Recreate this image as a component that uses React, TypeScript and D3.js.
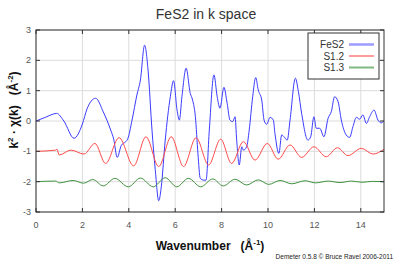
import React from 'react';
import * as d3 from 'd3';

// k values / chi values
const fes2: Array<[number, number]> = [
  [0, 0], [0.4, 0.12], [0.89, 0.25], [1.2, 0.0], [1.64, -0.57], [2.0, -0.1], [2.2, 0.4], [2.57, 0.75],
  [2.9, 0.3], [3.22, -0.3], [3.35, -0.6], [3.5, -1.2], [3.68, -0.8], [3.87, -0.68], [3.95, -0.6],
  [4.14, 0.03], [4.35, 0.86], [4.5, 1.35], [4.68, 2.5], [4.83, 1.68], [5.0, -0.3], [5.14, -1.6],
  [5.29, -2.63], [5.4, -2.17], [5.57, -0.63], [5.79, 0.8], [5.93, 1.33], [6.08, 0.36], [6.18, 0.03],
  [6.29, 0.8], [6.47, 1.74], [6.65, 0.91], [6.75, 0.69], [6.87, 0.14], [6.98, -1.07], [7.08, -1.89],
  [7.23, -1.95], [7.33, -1.95], [7.47, -0.3], [7.67, 1.52], [7.81, 0.8], [7.93, 0.42], [8.1, 1.11],
  [8.24, 0.58], [8.36, 0.03], [8.48, -0.02], [8.58, 0.14], [8.65, -0.63], [8.76, -1.45], [8.87, -0.85],
  [8.94, -0.96], [9.08, -0.85], [9.19, -0.3], [9.34, 0.8], [9.47, 1.43], [9.58, 1.02], [9.73, 0.69],
  [9.83, 0.03], [9.94, -0.11], [10.09, 0.12], [10.23, 0.03], [10.3, -0.41], [10.47, -1.07],
  [10.59, -0.46], [10.69, -0.52], [10.83, -0.63], [10.95, 0.03], [11.18, 1.41], [11.31, 0.97],
  [11.45, 0.25], [11.72, -0.63], [11.84, -0.52], [11.98, 0.14], [12.08, -0.24], [12.23, -0.24],
  [12.41, -0.52], [12.59, 0.09], [12.73, 0.31], [12.87, 0.8], [13.02, 0.64], [13.16, 0.03],
  [13.37, -0.46], [13.52, -0.54], [13.66, -0.19], [13.81, 0.12], [13.95, 0.06], [14.09, 0.2],
  [14.24, -0.08], [14.38, 0.14], [14.57, 0.36], [14.74, 0.03], [14.88, -0.06], [15, 0.0],
];

const s12: Array<[number, number]> = [
  [0, -1], [0.85, -0.96], [0.9, -0.93], [1.0, -1.12], [1.5, -0.96], [2.07, -1.09], [2.54, -0.74],
  [3.0, -1.4], [3.58, -0.55], [4.21, -1.48], [4.74, -0.52], [5.29, -1.5], [5.83, -0.52], [6.36, -1.5],
  [6.9, -0.55], [7.44, -1.45], [7.96, -0.6], [8.43, -1.4], [8.94, -0.68], [9.44, -1.29], [9.97, -0.74],
  [10.44, -1.26], [10.95, -0.79], [11.45, -1.2], [11.98, -0.85], [12.51, -1.18], [12.99, -0.88],
  [13.45, -1.14], [14.02, -0.9], [14.53, -1.09], [15, -0.93],
];

const s13: Array<[number, number]> = [
  [0, -2], [0.85, -1.98], [1.0, -2.04], [1.6, -1.96], [2.05, -2.05], [2.45, -1.93], [2.9, -2.14],
  [3.4, -1.89], [3.98, -2.17], [4.5, -1.88], [5.05, -2.17], [5.57, -1.87], [6.07, -2.17], [6.57, -1.89],
  [7.1, -2.17], [7.62, -1.91], [8.07, -2.14], [8.58, -1.92], [9.08, -2.11], [9.58, -1.94],
  [10.03, -2.09], [10.52, -1.96], [11.02, -2.07], [11.6, -1.97], [12.05, -2.04], [12.6, -1.98],
  [13.1, -2.03], [13.6, -1.98], [14.05, -2.02], [14.5, -1.99], [15, -2.0],
];

const xTicks = [0, 2, 4, 6, 8, 10, 12, 14];
const yTicks = [-3, -2, -1, 0, 1, 2, 3];

const series = [
  { name: 'FeS2', data: fes2, color: '#3a3aff', legendColor: '#9d9dff', legendWidth: 2.5 },
  { name: 'S1.2', data: s12, color: '#ff4a4a', legendColor: '#ff5a5a', legendWidth: 1.2 },
  { name: 'S1.3', data: s13, color: '#3f923f', legendColor: '#80b880', legendWidth: 2 },
];

const FONT = '"Liberation Sans", Arial, sans-serif';

export default function App() {
  const left = 36, right = 384, top = 30, bottom = 212;
  const x = d3.scaleLinear().domain([0, 15]).range([left, right]);
  const y = d3.scaleLinear().domain([-3, 3]).range([bottom, top]);
  const line = d3.line<[number, number]>().x((d) => x(d[0])).y((d) => y(d[1])).curve(d3.curveMonotoneX);

  return (
    <svg width={397} height={260} style={{ position: 'absolute', top: 0, left: 0, background: '#fff' }}
      fontFamily={FONT}>
      <rect width={397} height={260} fill="#fff" />
      <text x={206} y={19} textAnchor="middle" fontSize={14} fill="#333">FeS2 in k space</text>

      {/* grid */}
      {xTicks.map((t) => (
        <line key={'gx' + t} x1={x(t)} x2={x(t)} y1={top} y2={bottom} stroke="#dcdcdc" />
      ))}
      {yTicks.map((t) => (
        <line key={'gy' + t} x1={left} x2={right} y1={y(t)} y2={y(t)} stroke="#dcdcdc" />
      ))}

      {/* curves */}
      {series.map((s) => (
        <path key={s.name} d={line(s.data) || ''} fill="none" stroke={s.color} strokeWidth={1} />
      ))}

      {/* frame and ticks */}
      <rect x={left} y={top} width={right - left} height={bottom - top} fill="none" stroke="#333" />
      {xTicks.map((t) => (
        <g key={'tx' + t}>
          <line x1={x(t)} x2={x(t)} y1={bottom} y2={bottom - 4} stroke="#333" />
          <line x1={x(t)} x2={x(t)} y1={top} y2={top + 4} stroke="#333" />
          <text x={x(t)} y={228} textAnchor="middle" fontSize={9} fill="#555">{t}</text>
        </g>
      ))}
      {yTicks.map((t) => (
        <g key={'ty' + t}>
          <line x1={left} x2={left + 4} y1={y(t)} y2={y(t)} stroke="#333" />
          <line x1={right} x2={right - 4} y1={y(t)} y2={y(t)} stroke="#333" />
          <text x={31} y={y(t) + 3} textAnchor="end" fontSize={9} fill="#555">{t}</text>
        </g>
      ))}

      {/* legend */}
      <rect x={308} y={33} width={71} height={46} fill="#fff" stroke="#333" />
      {series.map((s, i) => (
        <g key={'lg' + s.name}>
          <text x={344} y={48 + i * 11.5} textAnchor="end" fontSize={10} fill="#333">{s.name}</text>
          <line x1={349} x2={374} y1={44.5 + i * 11.5} y2={44.5 + i * 11.5} stroke={s.legendColor}
            strokeWidth={s.legendWidth} />
        </g>
      ))}

      {/* axis labels */}
      <text x={210} y={250} textAnchor="middle" fontSize={12} fontWeight="bold" fill="#111">
        Wavenumber{'\u00a0\u00a0\u00a0'}(Å<tspan fontSize={8} dy={-5}>-1</tspan><tspan dy={5}>)</tspan>
      </text>
      <text transform="translate(18,110) rotate(-90)" textAnchor="middle" fontSize={12} fontWeight="bold" fill="#111">
        k<tspan fontSize={8} dy={-5}>2</tspan><tspan dy={5}> · χ(k){'\u00a0\u00a0\u00a0'}(Å</tspan><tspan fontSize={8} dy={-5}>-2</tspan><tspan dy={5}>)</tspan>
      </text>

      <text x={393} y={259} textAnchor="end" fontSize={6.5} fill="#222">Demeter 0.5.8 © Bruce Ravel 2006-2011</text>
    </svg>
  );
}
